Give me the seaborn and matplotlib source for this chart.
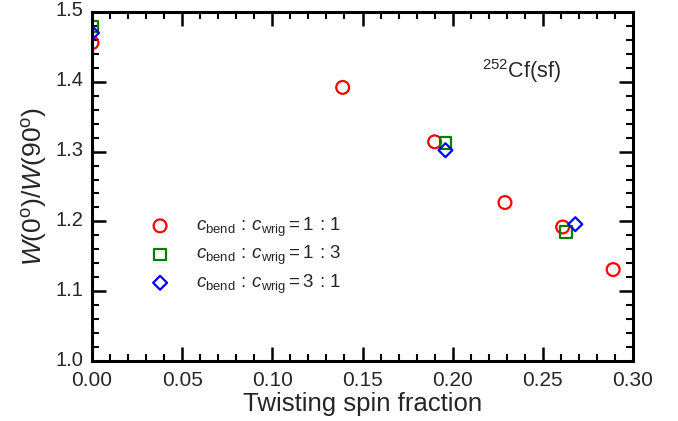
import matplotlib
matplotlib.use('Agg')
from matplotlib import pyplot as plt
from matplotlib.ticker import MultipleLocator, FormatStrFormatter
import matplotlib.transforms as mtransforms
import seaborn as sns

# spin fraction vs anisotropy
x_11 = [0.0, 0.139, 0.190, 0.229, 0.261, 0.289]
y_11 = [1.456, 1.392, 1.314, 1.227, 1.192, 1.131]
x_13 = [0.0, 0.196, 0.263]
y_13 = [1.479, 1.312, 1.185]
x_31 = [0.0, 0.196, 0.268]
y_31 = [1.470, 1.302, 1.196]
labels = [r'$c_{\mathrm{bend}}\,:\,c_{\mathrm{wrig}}=1\,:\,1$',
          r'$c_{\mathrm{bend}}\,:\,c_{\mathrm{wrig}}=1\,:\,3$',
          r'$c_{\mathrm{bend}}\,:\,c_{\mathrm{wrig}}=3\,:\,1$']

sns.set_style('ticks')
plt.rcParams['font.family'] = ['Liberation Sans', 'DejaVu Sans']
plt.rcParams['mathtext.fontset'] = 'custom'
plt.rcParams['mathtext.rm'] = 'Liberation Sans'
plt.rcParams['mathtext.it'] = 'Liberation Sans:italic'

fig = plt.figure(figsize=(6.78, 4.21), dpi=100)
ax = fig.add_axes([92/678, 60/421, 541/678, 349/421])

sns.scatterplot(x=x_11, y=y_11, marker='o', s=85, facecolor='none',
                edgecolor='red', linewidth=1.6, label=labels[0], ax=ax)
sns.scatterplot(x=x_13, y=y_13, marker='s', s=70, facecolor='none',
                edgecolor='green', linewidth=1.6, label=labels[1], ax=ax)
sns.scatterplot(x=x_31, y=y_31, marker='D', s=50, facecolor='none',
                edgecolor='blue', linewidth=1.6, label=labels[2], ax=ax)

ax.set_xlim(0, 0.30)
ax.set_ylim(1.0, 1.5)
ax.xaxis.set_major_locator(MultipleLocator(0.05))
ax.xaxis.set_minor_locator(MultipleLocator(0.01))
ax.yaxis.set_major_locator(MultipleLocator(0.1))
ax.yaxis.set_minor_locator(MultipleLocator(0.02))
ax.xaxis.set_major_formatter(FormatStrFormatter('%.2f'))
ax.yaxis.set_major_formatter(FormatStrFormatter('%.1f'))

for s in ax.spines.values():
    s.set_visible(True)
    s.set_linewidth(2.2)
    s.set_color('black')
ax.tick_params(which='both', direction='in', top=True, right=True,
               color='black', labelsize=15)
ax.tick_params(axis='y', labelsize=14.5)
ax.tick_params(which='major', length=10, width=1.8)
ax.tick_params(which='minor', length=5, width=1.5)
ax.tick_params(axis='x', pad=7)
ax.tick_params(axis='y', pad=6)

# nudge y tick labels up a little so "1.0" clears "0.00"
fig.canvas.draw()
shift = mtransforms.ScaledTranslation(0, 3/100, fig.dpi_scale_trans)
for lab in ax.get_yticklabels():
    lab.set_transform(lab.get_transform() + shift)

ax.set_xlabel('Twisting spin fraction', fontsize=18.5, labelpad=2)
ax.set_ylabel(r'$W(0^{\mathrm{o}})/W(90^{\mathrm{o}})$', fontsize=19, labelpad=5)

ax.text(0.72, 0.81, r'$^{252}$Cf(sf)', transform=ax.transAxes, fontsize=15.5)

ax.legend(loc='upper left', bbox_to_anchor=(0.06, 0.465), frameon=False,
          fontsize=13.5, handletextpad=0.9, labelspacing=0.28)

plt.savefig('out.png', dpi=100)
